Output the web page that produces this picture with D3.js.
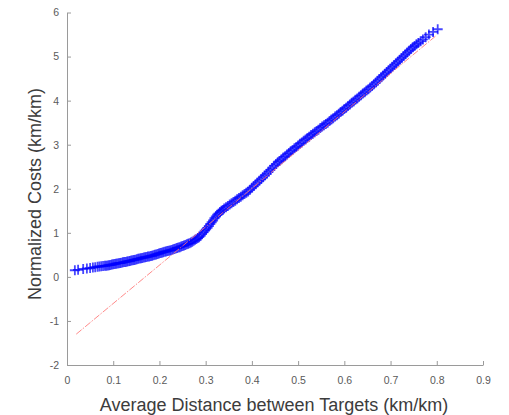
<!DOCTYPE html>
<html>
<head>
<meta charset="utf-8">
<script src="https://cdn.jsdelivr.net/npm/d3@7/dist/d3.min.js"></script>
<style>
  html, body { margin: 0; padding: 0; background: #fff; }
  svg { display: block; }
  .axis text { font-family: "Liberation Sans", Arial, Helvetica, sans-serif; font-size: 10.5px; fill: #5a5a5a; }
  .axis path, .axis line { stroke: #9a9a9a; stroke-width: 1; }
  .title { font-family: "Liberation Sans", Arial, Helvetica, sans-serif; fill: #3c3c3c; }
</style>
</head>
<body>
<svg id="chart" width="509" height="415"></svg>
<script>
// Observed average distance between targets (km/km)
const avgDistance = [
  0.017, 0.024, 0.035, 0.043, 0.050, 0.056, 0.061, 0.066, 0.070, 0.074,
  0.078, 0.082, 0.085, 0.088, 0.091, 0.094, 0.097, 0.100, 0.103, 0.106,
  0.109, 0.112, 0.115, 0.118, 0.121, 0.124, 0.127, 0.130, 0.133, 0.136,
  0.139, 0.142, 0.145, 0.148, 0.151, 0.154, 0.157, 0.160, 0.163, 0.166,
  0.169, 0.172, 0.175, 0.178, 0.181, 0.184, 0.187, 0.190, 0.193, 0.196,
  0.199, 0.202, 0.205, 0.208, 0.211, 0.214, 0.217, 0.220, 0.223, 0.226,
  0.229, 0.232, 0.235, 0.238, 0.241, 0.244, 0.247, 0.250, 0.253, 0.256,
  0.259, 0.262, 0.265, 0.268, 0.271, 0.274, 0.277, 0.280, 0.283, 0.286,
  0.289, 0.292, 0.295, 0.298, 0.301, 0.304, 0.307, 0.310, 0.313, 0.316,
  0.319, 0.322, 0.325, 0.328, 0.331, 0.334, 0.337, 0.340, 0.344, 0.348,
  0.352, 0.356, 0.360, 0.364, 0.368, 0.372, 0.376, 0.380, 0.384, 0.388,
  0.392, 0.396, 0.400, 0.404, 0.408, 0.412, 0.416, 0.420, 0.424, 0.428,
  0.432, 0.436, 0.440, 0.444, 0.448, 0.452, 0.456, 0.460, 0.464, 0.468,
  0.472, 0.476, 0.480, 0.484, 0.488, 0.492, 0.496, 0.500, 0.504, 0.508,
  0.512, 0.516, 0.520, 0.524, 0.528, 0.532, 0.536, 0.540, 0.544, 0.548,
  0.552, 0.556, 0.560, 0.564, 0.568, 0.572, 0.576, 0.580, 0.584, 0.588,
  0.592, 0.596, 0.600, 0.604, 0.608, 0.612, 0.616, 0.620, 0.624, 0.628,
  0.632, 0.636, 0.640, 0.644, 0.648, 0.652, 0.656, 0.660, 0.664, 0.668,
  0.672, 0.676, 0.680, 0.684, 0.688, 0.692, 0.696, 0.700, 0.704, 0.708,
  0.712, 0.716, 0.720, 0.724, 0.728, 0.732, 0.736, 0.740, 0.744, 0.748,
  0.752, 0.756, 0.760, 0.765, 0.770, 0.776, 0.783, 0.792, 0.802
];

// Normalized costs (km/km) for each observation above
const normalizedCost = [
  0.15, 0.16, 0.18, 0.19, 0.20, 0.21, 0.22, 0.23, 0.235, 0.24,
  0.245, 0.25, 0.255, 0.26, 0.265, 0.27, 0.28, 0.285, 0.29, 0.30,
  0.305, 0.31, 0.315, 0.32, 0.33, 0.335, 0.34, 0.35, 0.355, 0.36,
  0.37, 0.38, 0.385, 0.39, 0.40, 0.41, 0.415, 0.425, 0.43, 0.44,
  0.445, 0.45, 0.46, 0.465, 0.475, 0.48, 0.49, 0.50, 0.51, 0.52,
  0.53, 0.54, 0.55, 0.56, 0.57, 0.575, 0.585, 0.595, 0.60, 0.61,
  0.62, 0.63, 0.645, 0.655, 0.665, 0.675, 0.69, 0.70, 0.71, 0.725,
  0.74, 0.75, 0.765, 0.78, 0.80, 0.82, 0.84, 0.86, 0.88, 0.90,
  0.93, 0.97, 1.01, 1.05, 1.08, 1.11, 1.15, 1.20, 1.24, 1.28,
  1.33, 1.37, 1.41, 1.44, 1.47, 1.50, 1.52, 1.55, 1.58, 1.61,
  1.64, 1.67, 1.70, 1.73, 1.76, 1.79, 1.82, 1.85, 1.88, 1.91,
  1.94, 1.98, 2.02, 2.06, 2.10, 2.14, 2.18, 2.22, 2.26, 2.30,
  2.34, 2.39, 2.43, 2.47, 2.52, 2.56, 2.60, 2.63, 2.67, 2.71,
  2.74, 2.78, 2.81, 2.85, 2.88, 2.92, 2.95, 2.98, 3.02, 3.05,
  3.09, 3.12, 3.15, 3.18, 3.22, 3.25, 3.28, 3.31, 3.34, 3.38,
  3.41, 3.44, 3.47, 3.50, 3.54, 3.57, 3.60, 3.64, 3.67, 3.70,
  3.74, 3.77, 3.81, 3.84, 3.88, 3.91, 3.95, 3.98, 4.02, 4.05,
  4.09, 4.12, 4.16, 4.19, 4.23, 4.26, 4.30, 4.33, 4.37, 4.41,
  4.45, 4.49, 4.53, 4.57, 4.61, 4.65, 4.69, 4.73, 4.77, 4.81,
  4.85, 4.89, 4.93, 4.97, 5.01, 5.05, 5.09, 5.13, 5.17, 5.21,
  5.24, 5.28, 5.31, 5.35, 5.39, 5.44, 5.50, 5.56, 5.62
];

// Reference line end points
const refX = [0.020, 0.797];
const refY = [-1.30, 5.46];

// Axis ticks
const xTicks = [0, 0.1, 0.2, 0.3, 0.4, 0.5, 0.6, 0.7, 0.8, 0.9];
const yTicks = [-2, -1, 0, 1, 2, 3, 4, 5, 6];
const xLabel = "Average Distance between Targets (km/km)";
const yLabel = "Normalized Costs (km/km)";

const svg = d3.select("#chart");
const plot = { left: 67, right: 483, top: 12.5, bottom: 365 };

const x = d3.scaleLinear().domain([0, 0.9]).range([plot.left, plot.right]);
const y = d3.scaleLinear().domain([-2, 6]).range([plot.bottom, plot.top]);

// Scatter of observations as '+' markers
const arm = 5;
const points = avgDistance.map((d, i) => [d, normalizedCost[i]]);
svg.append("g")
  .attr("stroke", "#0000ff")
  .attr("stroke-opacity", 0.72)
  .attr("stroke-width", 1.8)
  .attr("fill", "none")
  .selectAll("path")
  .data(points)
  .join("path")
  .attr("d", d => {
    const cx = x(d[0]), cy = y(d[1]);
    return `M${cx - arm},${cy}H${cx + arm}M${cx},${cy - arm}V${cy + arm}`;
  });

// Reference line
svg.append("path")
  .datum(refX.map((d, i) => [d, refY[i]]))
  .attr("fill", "none")
  .attr("stroke", "#ff7474")
  .attr("stroke-opacity", 0.85)
  .attr("stroke-width", 1)
  .attr("stroke-dasharray", "7,1.5,1.5,1.5")
  .attr("d", d3.line().x(d => x(d[0])).y(d => y(d[1])));

// Axes with inward ticks
svg.append("g")
  .attr("class", "axis")
  .attr("transform", `translate(0,${plot.bottom})`)
  .call(d3.axisBottom(x).tickValues(xTicks).tickFormat(d3.format("")).tickSizeInner(-4).tickSizeOuter(0).tickPadding(12));

svg.append("g")
  .attr("class", "axis")
  .attr("transform", `translate(${plot.left},0)`)
  .call(d3.axisLeft(y).tickValues(yTicks).tickFormat(d3.format("")).tickSizeInner(-4).tickSizeOuter(0).tickPadding(8));

svg.selectAll(".axis text").text(function () { return this.textContent.replace("−", "-"); });

// Axis titles
svg.append("text")
  .attr("class", "title")
  .attr("x", 274)
  .attr("y", 411)
  .attr("text-anchor", "middle")
  .attr("font-size", 18)
  .text(xLabel);

svg.append("text")
  .attr("class", "title")
  .attr("transform", `translate(41,194) rotate(-90)`)
  .attr("text-anchor", "middle")
  .attr("font-size", 18)
  .text(yLabel);
</script>
</body>
</html>
